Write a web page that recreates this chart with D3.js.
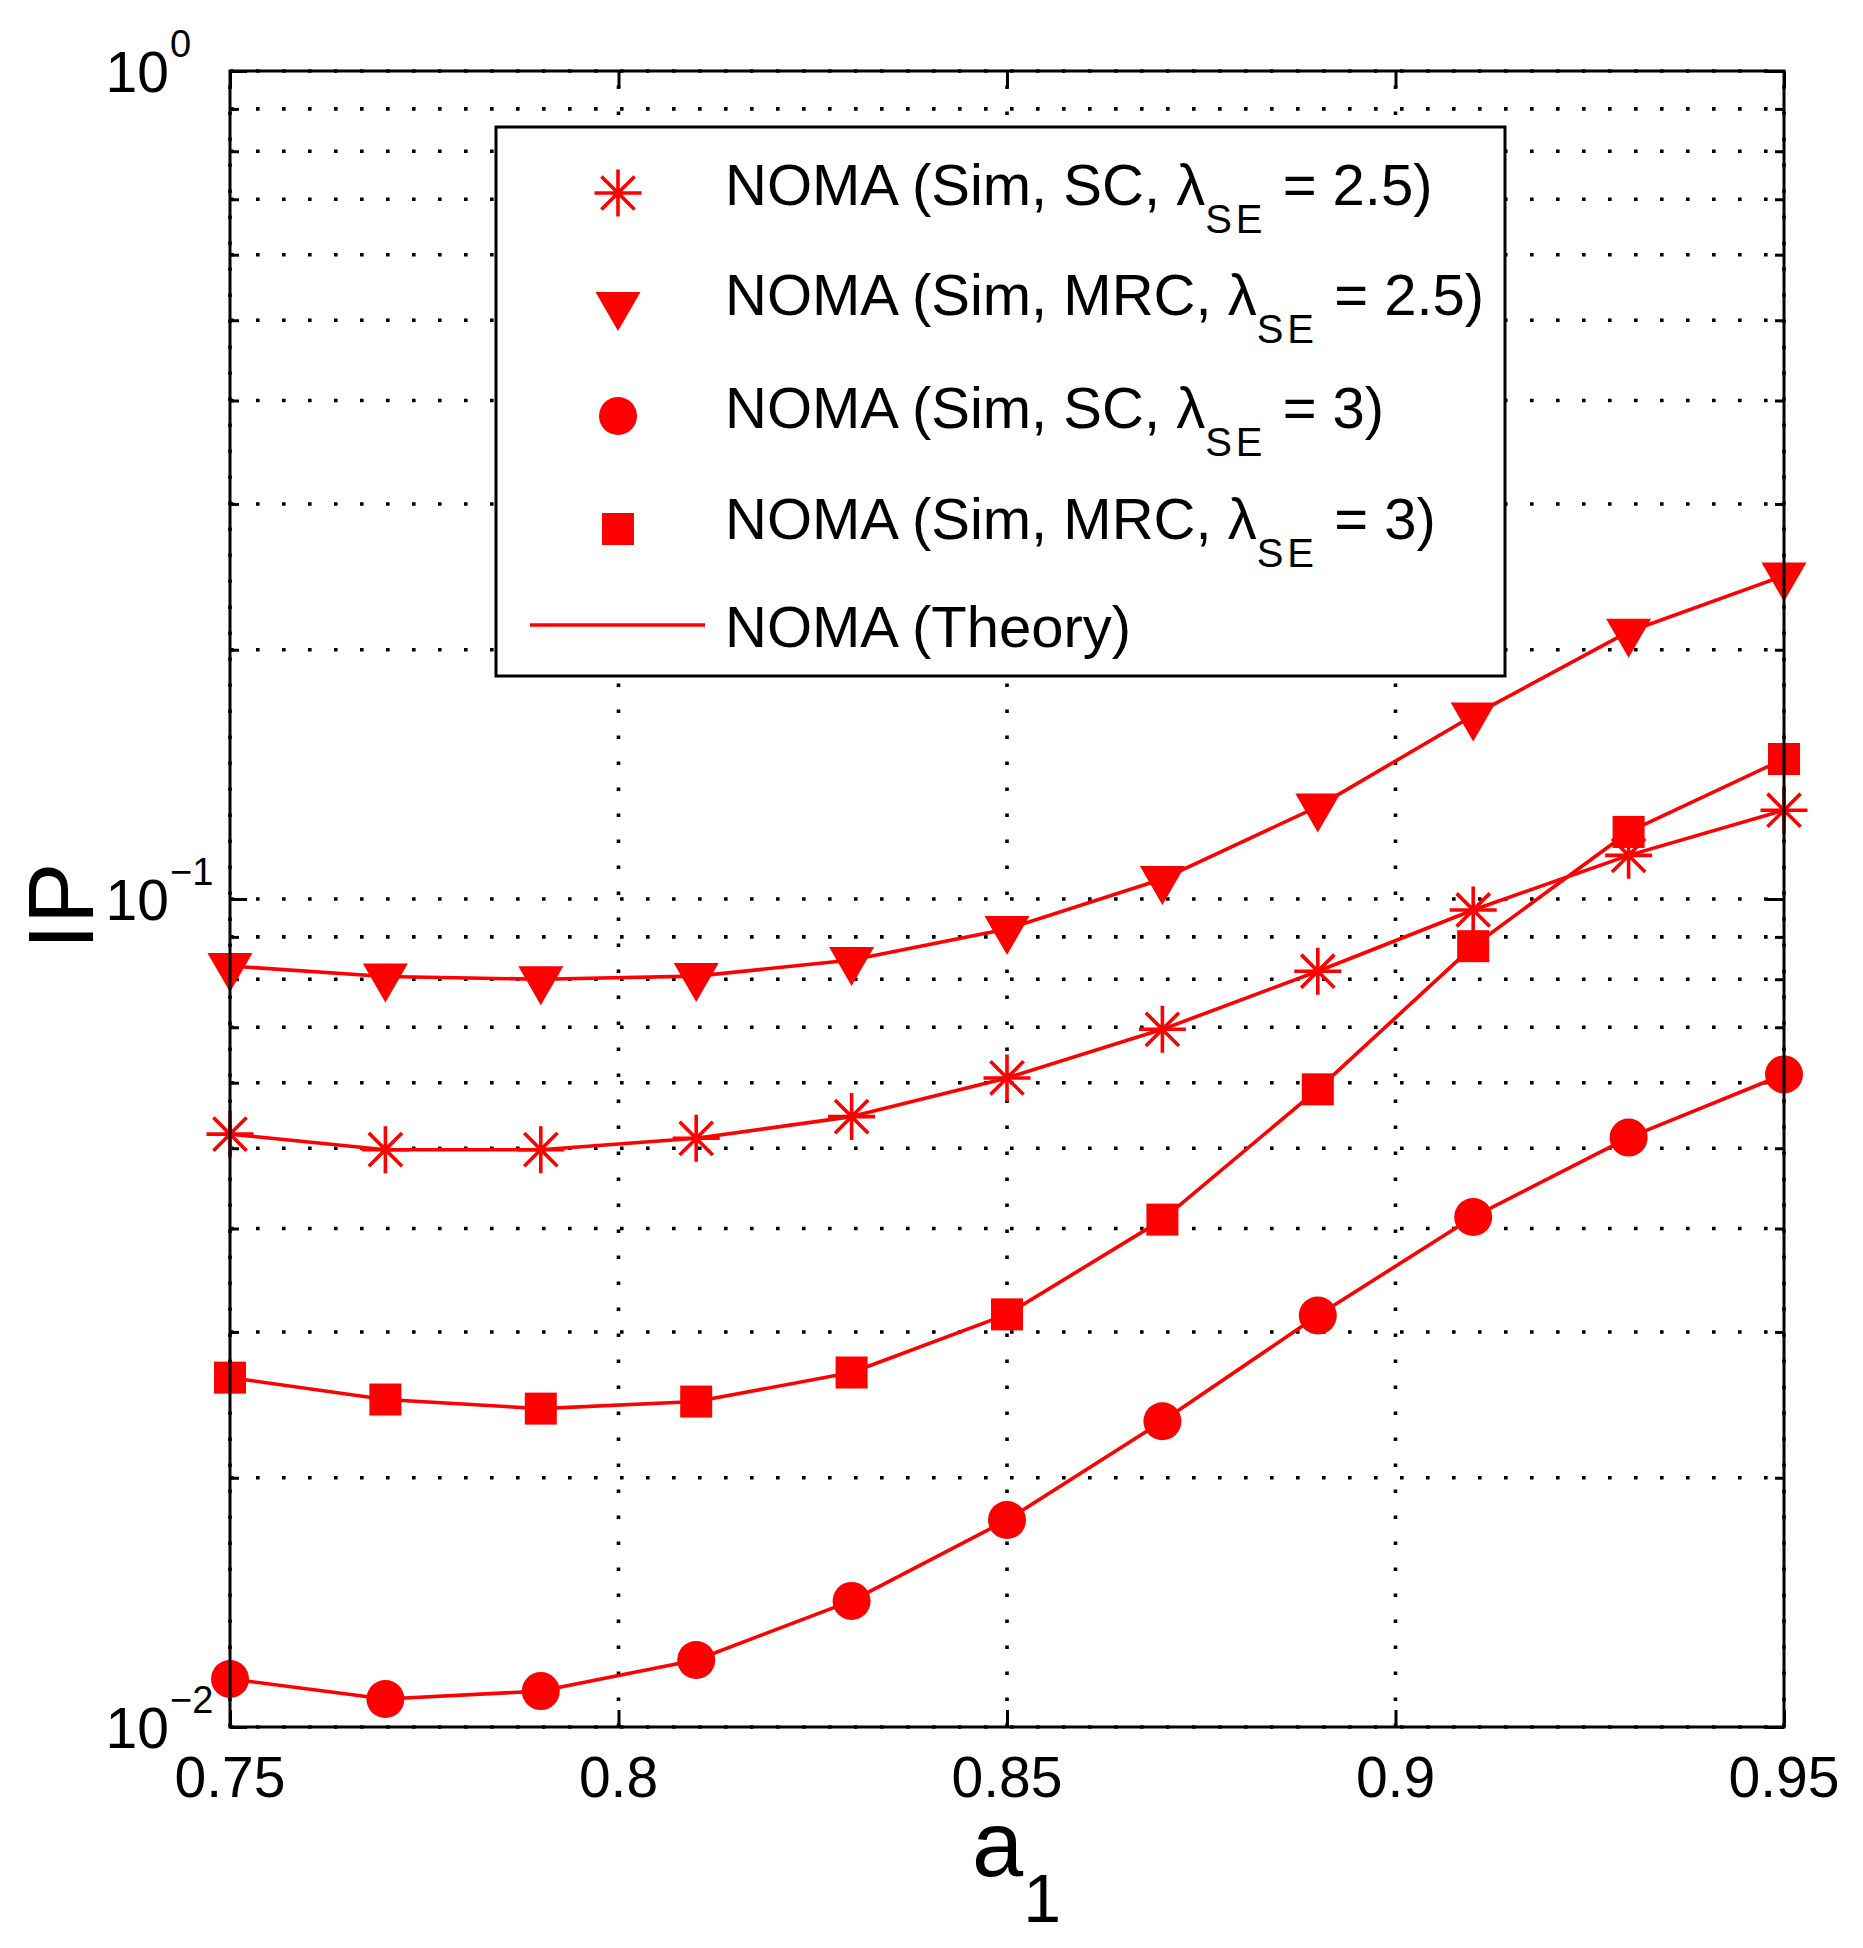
<!DOCTYPE html>
<html>
<head>
<meta charset="utf-8">
<script src="https://cdn.jsdelivr.net/npm/d3@7"></script>
<style>
  html, body { margin: 0; padding: 0; background: #fff; }
  text { font-family: "Liberation Sans", Arial, Helvetica, sans-serif; fill: #000; }
</style>
</head>
<body>
<svg id="chart" width="1863" height="1948"></svg>
<script>
// ---------------- data ----------------
const a1 = [0.75, 0.77, 0.79, 0.81, 0.83, 0.85, 0.87, 0.89, 0.91, 0.93, 0.95];
const ipSimSC25  = [0.0520, 0.0498, 0.0498, 0.0514, 0.0546, 0.0608, 0.0696, 0.0818, 0.0970, 0.1129, 0.1280];
const ipSimMRC25 = [0.0830, 0.0806, 0.0800, 0.0807, 0.0844, 0.0920, 0.1057, 0.1293, 0.1666, 0.2103, 0.2458];
const ipSimSC3   = [0.01143, 0.01081, 0.01105, 0.01205, 0.01420, 0.01778, 0.02340, 0.03140, 0.04130, 0.05150, 0.0614];
const ipSimMRC3  = [0.02642, 0.02486, 0.02424, 0.02472, 0.02680, 0.03150, 0.0410, 0.0589, 0.0877, 0.1205, 0.1476];
// theory curves (coincide with simulation points)
const ipTheorySC25  = ipSimSC25.slice();
const ipTheoryMRC25 = ipSimMRC25.slice();
const ipTheorySC3   = ipSimSC3.slice();
const ipTheoryMRC3  = ipSimMRC3.slice();

const xTicks = [0.75, 0.8, 0.85, 0.9, 0.95];
const xTickLabels = ["0.75", "0.8", "0.85", "0.9", "0.95"];
const yMajorTicks = [0.01, 0.1, 1];
const yTickBase = ["10", "10", "10"];
const yTickExp = ["\u22122", "\u22121", "0"];

const legendMain = ["NOMA (Sim, SC, \u03bb", "NOMA (Sim, MRC, \u03bb", "NOMA (Sim, SC, \u03bb", "NOMA (Sim, MRC, \u03bb", "NOMA (Theory)"];
const legendSub  = ["SE", "SE", "SE", "SE", ""];
const legendTail = [" = 2.5)", " = 2.5)", " = 3)", " = 3)", ""];
const legendMarker = ["star", "tri", "circle", "square", "line"];

// ---------------- layout ----------------
const RED = "#ff0000";
const L = 230, R = 1784, T = 71, B = 1727;
const svg = d3.select("#chart");
svg.append("rect").attr("width", 1863).attr("height", 1948).attr("fill", "#fff");

const x = d3.scaleLinear().domain([0.75, 0.95]).range([L, R]);
const y = d3.scaleLog().domain([0.01, 1]).range([B, T]);

const yAll = y.ticks(); // 0.01..0.09, 0.1..0.9, 1
const yMinor = yAll.filter(v => !yMajorTicks.some(m => Math.abs(m - v) < 1e-12));

// ---------------- grid ----------------
const grid = svg.append("g").attr("stroke", "#000").attr("stroke-width", 3.6)
  .attr("stroke-dasharray", "3.6 22.4").attr("fill", "none");
yAll.forEach(v => {
  grid.append("line").attr("x1", L).attr("x2", R).attr("y1", y(v)).attr("y2", y(v));
});
xTicks.forEach(v => {
  grid.append("line").attr("x1", x(v)).attr("x2", x(v)).attr("y1", B).attr("y2", T);
});

// ---------------- ticks (inward, all four sides) ----------------
function styleAxis(g) {
  g.select(".domain").remove();
  g.selectAll(".tick line").attr("stroke", "#000").attr("stroke-width", 3);
  g.selectAll(".tick text").remove();
}
const MAJ = 17, MIN = 9;
svg.append("g").attr("transform", `translate(${L},0)`)
  .call(d3.axisLeft(y).tickValues(yMajorTicks).tickSize(-MAJ)).call(styleAxis);
svg.append("g").attr("transform", `translate(${L},0)`)
  .call(d3.axisLeft(y).tickValues(yMinor).tickSize(-MIN)).call(styleAxis);
svg.append("g").attr("transform", `translate(${R},0)`)
  .call(d3.axisRight(y).tickValues(yMajorTicks).tickSize(-MAJ)).call(styleAxis);
svg.append("g").attr("transform", `translate(${R},0)`)
  .call(d3.axisRight(y).tickValues(yMinor).tickSize(-MIN)).call(styleAxis);
svg.append("g").attr("transform", `translate(0,${B})`)
  .call(d3.axisBottom(x).tickValues(xTicks).tickSize(-MAJ)).call(styleAxis);
svg.append("g").attr("transform", `translate(0,${T})`)
  .call(d3.axisTop(x).tickValues(xTicks).tickSize(-MAJ)).call(styleAxis);

// ---------------- tick labels ----------------
const xl = svg.append("g");
xTicks.forEach((v, i) => {
  xl.append("text").attr("x", x(v)).attr("y", B + 70)
    .attr("text-anchor", "middle").attr("font-size", 57).text(xTickLabels[i]);
});
const yl = svg.append("g");
yMajorTicks.forEach((v, i) => {
  yl.append("text").attr("x", 169).attr("y", y(v) + 21)
    .attr("text-anchor", "end").attr("font-size", 57).text(yTickBase[i]);
  yl.append("text").attr("x", 170).attr("y", y(v) - 14)
    .attr("text-anchor", "start").attr("font-size", 38).text(yTickExp[i]);
});

// ---------------- axis titles ----------------
svg.append("text")
  .attr("transform", `translate(93,${(T + B) / 2 + 7}) rotate(-90)`)
  .attr("text-anchor", "middle").attr("font-size", 92).text("IP");
const xt = svg.append("text").attr("x", (L + R) / 2 - 35).attr("y", 1876)
  .attr("text-anchor", "start").attr("font-size", 92);
xt.append("tspan").text("a");
xt.append("tspan").attr("font-size", 68).attr("dy", 46).text("1");

// ---------------- markers ----------------
function drawMarker(g, type, cx, cy) {
  if (type === "star") {
    const r = 23.5, d = 16.6;
    g.append("path")
      .attr("d", `M${cx},${cy - r}V${cy + r}M${cx - r},${cy}H${cx + r}M${cx - d},${cy - d}L${cx + d},${cy + d}M${cx - d},${cy + d}L${cx + d},${cy - d}`)
      .attr("stroke", RED).attr("stroke-width", 3.6).attr("fill", "none");
  } else if (type === "tri") {
    g.append("path")
      .attr("d", `M${cx - 22.5},${cy - 13}L${cx + 22.5},${cy - 13}L${cx},${cy + 26}Z`)
      .attr("fill", RED);
  } else if (type === "circle") {
    g.append("circle").attr("cx", cx).attr("cy", cy).attr("r", 19).attr("fill", RED);
  } else if (type === "square") {
    g.append("rect").attr("x", cx - 16).attr("y", cy - 16).attr("width", 32).attr("height", 32).attr("fill", RED);
  }
}

// ---------------- theory lines ----------------
const line = d3.line().x((d, i) => x(a1[i])).y(d => y(d));
const lines = svg.append("g").attr("fill", "none").attr("stroke", RED).attr("stroke-width", 3.6)
  .attr("stroke-linejoin", "round");
[ipTheorySC25, ipTheoryMRC25, ipTheorySC3, ipTheoryMRC3].forEach(s => {
  lines.append("path").attr("d", line(s));
});

// ---------------- simulation markers ----------------
const mk = svg.append("g");
[[ipSimSC25, "star"], [ipSimMRC25, "tri"], [ipSimSC3, "circle"], [ipSimMRC3, "square"]].forEach(([s, t]) => {
  s.forEach((v, i) => drawMarker(mk, t, x(a1[i]), y(v)));
});

// ---------------- frame ----------------
svg.append("rect").attr("x", L).attr("y", T).attr("width", R - L).attr("height", B - T)
  .attr("fill", "none").attr("stroke", "#000").attr("stroke-width", 3);

// ---------------- legend ----------------
const lg = svg.append("g");
lg.append("rect").attr("x", 496).attr("y", 127).attr("width", 1009).attr("height", 549)
  .attr("fill", "#fff").attr("stroke", "#000").attr("stroke-width", 3);
const rowBase = [205, 315, 428, 539, 647];
const rowMark = [193, 305, 416, 529, 625];
legendMain.forEach((lab, i) => {
  const t = lg.append("text").attr("x", 725).attr("y", rowBase[i]).attr("font-size", 58);
  t.append("tspan").text(lab);
  if (legendSub[i]) {
    t.append("tspan").attr("font-size", 40).attr("letter-spacing", 4).attr("dy", 28).text(legendSub[i]);
    t.append("tspan").attr("dy", -28).attr("letter-spacing", 0).text(legendTail[i]);
  }
  if (legendMarker[i] === "line") {
    lg.append("line").attr("x1", 530).attr("x2", 705).attr("y1", rowMark[i]).attr("y2", rowMark[i])
      .attr("stroke", RED).attr("stroke-width", 3.6);
  } else {
    drawMarker(lg, legendMarker[i], 618, rowMark[i]);
  }
});
</script>
</body>
</html>
